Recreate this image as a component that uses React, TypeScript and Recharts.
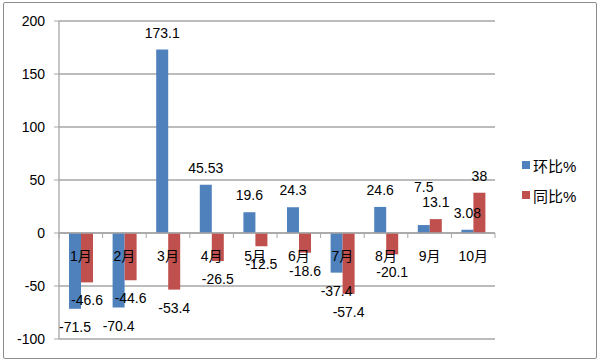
import React from 'react';
import { BarChart, Bar, XAxis, YAxis, CartesianGrid, ReferenceLine, LabelList } from 'recharts';

const months = ['1月', '2月', '3月', '4月', '5月', '6月', '7月', '8月', '9月', '10月'];
const huanbi = [-71.5, -70.4, 173.1, 45.53, 19.6, 24.3, -37.4, 24.6, 7.5, 3.08];
const tongbi = [-46.6, -44.6, -53.4, -26.5, -12.5, -18.6, -57.4, -20.1, 13.1, 38];
const yTicks = [-100, -50, 0, 50, 100, 150, 200];

const data = months.map((m, i) => ({ month: m, huanbi: huanbi[i], tongbi: tongbi[i] }));

const FONT = '"Liberation Sans", "Noto Sans CJK SC", sans-serif';
const W = 600;
const H = 362;
const TOP = 21;
const BOTTOM = 23;
const X_AXIS_H = 20;
const LEFT = 59;
const RIGHT = 105;
const PLOT_H = H - TOP - BOTTOM;
const Y_MIN = -100;
const Y_MAX = 200;
const zeroY = TOP + (PLOT_H * Y_MAX) / (Y_MAX - Y_MIN);
const band = (W - LEFT - RIGHT) / months.length;

const makeLabel = (other: number[] | null) => (props: any) => {
  const { x, y, width, height, value, index } = props;
  const top = Math.min(y, y + height);
  const bottom = Math.max(y, y + height);
  const cx = x + width / 2;
  let ty = value >= 0 ? top - 12 : bottom + 23;
  if (other && value >= 0 && value !== 0) {
    const ov = other[index];
    if (ov > value) {
      const ppu = Math.abs(height) / Math.abs(value);
      const otherBase = zeroY - ov * ppu - 12;
      if (Math.abs(otherBase - ty) < 15) ty = otherBase - 15;
    }
  }
  return (
    <text x={cx} y={ty} textAnchor="middle" fontSize={14} fontFamily={FONT} fill="#000">
      {value}
    </text>
  );
};

const HuanbiLabel = makeLabel(tongbi);
const TongbiLabel = makeLabel(null);

const XTick = (props: any) => {
  const { x, index, payload } = props;
  return (
    <g>
      <line x1={x - band / 2} y1={zeroY} x2={x - band / 2} y2={zeroY + 5} stroke="#a6a6a6" />
      {index === months.length - 1 && (
        <line x1={x + band / 2} y1={zeroY} x2={x + band / 2} y2={zeroY + 5} stroke="#a6a6a6" />
      )}
      <text x={x} y={zeroY + 28} textAnchor="middle" fontSize={14} fontFamily={FONT} fill="#000">
        {payload.value}
      </text>
    </g>
  );
};

const legendItems = [
  { name: '环比%', color: '#4F81BD' },
  { name: '同比%', color: '#C0504D' },
];

export default function App() {
  return (
    <div style={{ position: 'absolute', left: 0, top: 0, width: W, height: H, background: '#fff' }}>
      <div
        style={{
          position: 'absolute',
          left: 3,
          top: 2,
          width: 592,
          height: 355,
          border: '1px solid #8c8c8c',
          borderRadius: 2,
        }}
      />
      <BarChart
        width={W}
        height={H}
        data={data}
        margin={{ top: TOP, right: RIGHT, bottom: BOTTOM - X_AXIS_H, left: 0 }}
        barGap={0}
        barSize={12}
      >
        <CartesianGrid vertical={false} stroke="#a6a6a6" strokeWidth={1.3} />
        <XAxis dataKey="month" axisLine={false} tickLine={false} tick={XTick} height={X_AXIS_H} interval={0} />
        <YAxis
          domain={[Y_MIN, Y_MAX]}
          ticks={yTicks}
          width={LEFT}
          axisLine={{ stroke: '#a6a6a6', strokeWidth: 1.3 }}
          tickLine={{ stroke: '#a6a6a6' }}
          tickSize={5}
          tickMargin={9}
          tick={{ fontSize: 14, fontFamily: FONT, fill: '#000' }}
        />
        <ReferenceLine y={0} stroke="#a6a6a6" strokeWidth={1.3} />
        <Bar dataKey="huanbi" name="环比%" fill="#4F81BD" isAnimationActive={false}>
          <LabelList dataKey="huanbi" content={HuanbiLabel} />
        </Bar>
        <Bar dataKey="tongbi" name="同比%" fill="#C0504D" isAnimationActive={false}>
          <LabelList dataKey="tongbi" content={TongbiLabel} />
        </Bar>
      </BarChart>
      <div style={{ position: 'absolute', left: 522, top: 150, fontFamily: FONT, fontSize: 15, color: '#000' }}>
        {legendItems.map((it) => (
          <div key={it.name} style={{ display: 'flex', alignItems: 'center', height: 30 }}>
            <span style={{ display: 'inline-block', width: 8, height: 8, background: it.color, marginRight: 3 }} />
            <span>{it.name}</span>
          </div>
        ))}
      </div>
    </div>
  );
}
